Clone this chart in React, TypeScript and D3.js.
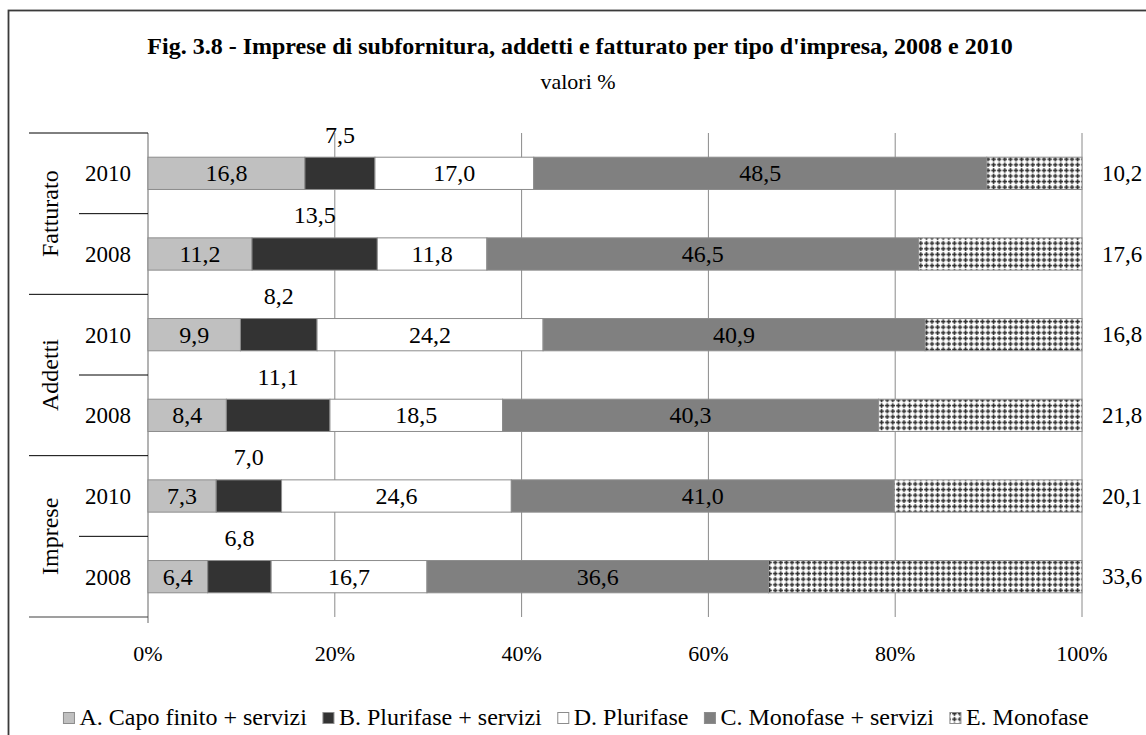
import React, { useMemo } from "react";
import * as d3 from "d3";

// ---- data ----
const groups = ["Fatturato", "Addetti", "Imprese"];
const years = ["2010", "2008"];
const seriesKeys = ["A", "B", "D", "C", "E"];
const seriesNames = [
  "A. Capo finito + servizi",
  "B. Plurifase + servizi",
  "D. Plurifase",
  "C. Monofase + servizi",
  "E. Monofase",
];
// rows: Fatturato 2010, Fatturato 2008, Addetti 2010, Addetti 2008, Imprese 2010, Imprese 2008
const valuesA = [16.8, 11.2, 9.9, 8.4, 7.3, 6.4];
const valuesB = [7.5, 13.5, 8.2, 11.1, 7.0, 6.8];
const valuesD = [17.0, 11.8, 24.2, 18.5, 24.6, 16.7];
const valuesC = [48.5, 46.5, 40.9, 40.3, 41.0, 36.6];
const valuesE = [10.2, 17.6, 16.8, 21.8, 20.1, 33.6];
const xTicks = [0, 0.2, 0.4, 0.6, 0.8, 1];

const title = "Fig. 3.8 - Imprese di subfornitura, addetti e fatturato per tipo d'impresa, 2008 e 2010";
const subtitle = "valori %";

const FONT = "'Liberation Serif', 'Times New Roman', Times, serif";
const fills: Record<string, string> = {
  A: "#c0c0c0",
  B: "#333333",
  D: "#ffffff",
  C: "#808080",
  E: "url(#patE)",
};

const fmt = (v: number) => d3.format(".1f")(v).replace(".", ",");

export default function App() {
  const W = 1146;
  const H = 735;
  const plotL = 148;
  const plotR = 1082;
  const plotT = 133;
  const plotB = 617;

  const rows = useMemo(() => {
    const out: any[] = [];
    groups.forEach((g, gi) =>
      years.forEach((y, yi) => {
        const i = gi * 2 + yi;
        out.push({
          id: `${g}-${y}`,
          group: g,
          year: y,
          A: valuesA[i],
          B: valuesB[i],
          D: valuesD[i],
          C: valuesC[i],
          E: valuesE[i],
        });
      })
    );
    return out;
  }, []);

  const stacked = useMemo(
    () => d3.stack<any>().keys(seriesKeys).offset(d3.stackOffsetExpand)(rows),
    [rows]
  );

  const x = d3.scaleLinear().domain([0, 1]).range([plotL, plotR]);
  const y = d3
    .scaleBand<string>()
    .domain(rows.map((r) => r.id))
    .range([plotT, plotB])
    .paddingInner(0.6)
    .paddingOuter(0.3);
  const step = y.step();
  const bw = y.bandwidth();
  const rowTop = (id: string) => (y(id) as number) - (step * 0.6) / 2;
  const rowCenter = (id: string) => (y(id) as number) + bw / 2;

  // legend layout
  const legendFont = `24px ${FONT}`;
  const legendItems = useMemo(() => {
    const ctx = document.createElement("canvas").getContext("2d")!;
    ctx.font = legendFont;
    const markerSize = 11;
    const mGap = 5;
    const itemGap = 16;
    const widths = seriesNames.map((n) => ctx.measureText(n).width);
    const total =
      widths.reduce((a, b) => a + b, 0) +
      seriesNames.length * (markerSize + mGap) +
      (seriesNames.length - 1) * itemGap;
    let cx = 576 - total / 2;
    return seriesNames.map((n, i) => {
      const it = { name: n, key: seriesKeys[i], x: cx, markerSize, tx: cx + markerSize + mGap };
      cx += markerSize + mGap + widths[i] + itemGap;
      return it;
    });
  }, []);

  const legendY = 717;

  return (
    <svg
      width={W}
      height={H}
      style={{ position: "absolute", left: 0, top: 0, background: "#fff" }}
      fontFamily={FONT}
    >
      <defs>
        <pattern id="patE" width={5.6} height={5.6} patternUnits="userSpaceOnUse">
          <rect width={5.6} height={5.6} fill="#ffffff" />
          <rect x={0.2} y={1.6} width={4.4} height={1.6} fill="#2e2e2e" />
          <rect x={1.6} y={0.2} width={1.6} height={4.4} fill="#2e2e2e" />
        </pattern>
      </defs>
      <rect x={0} y={0} width={W} height={H} fill="#fff" />
      {/* frame */}
      <rect x={8.5} y={10.5} width={1200} height={800} fill="none" stroke="#3a3a3a" strokeWidth={1.8} />

      {/* title */}
      <text x={580} y={54} textAnchor="middle" fontSize={24} fontWeight="bold" fill="#000">
        {title}
      </text>
      <text x={578} y={89} textAnchor="middle" fontSize={22} fill="#000">
        {subtitle}
      </text>

      {/* gridlines */}
      {xTicks.slice(1).map((t) => (
        <line key={t} x1={x(t)} x2={x(t)} y1={plotT} y2={plotB} stroke="#8a8a8a" strokeWidth={1} />
      ))}
      {/* left axis */}
      <line x1={plotL} x2={plotL} y1={plotT} y2={plotB + 6} stroke="#808080" strokeWidth={1.2} />

      {/* bars */}
      {stacked.map((s) => (
        <g key={s.key}>
          {s.map((d: any) => (
            <rect
              key={d.data.id}
              x={x(d[0])}
              y={y(d.data.id)}
              width={x(d[1]) - x(d[0])}
              height={bw}
              fill={fills[s.key]}
              stroke="#8c8c8c"
              strokeWidth={1}
            />
          ))}
        </g>
      ))}

      {/* labels */}
      {stacked.map((s) =>
        s.map((d: any) => {
          const v = d.data[s.key];
          const cy = rowCenter(d.data.id);
          const cxm = (x(d[0]) + x(d[1])) / 2;
          if (s.key === "B") {
            return (
              <text key={s.key + d.data.id} x={cxm} y={rowTop(d.data.id) + 9.5} textAnchor="middle" fontSize={24} fill="#000">
                {fmt(v)}
              </text>
            );
          }
          if (s.key === "E") {
            return (
              <text key={s.key + d.data.id} x={plotR + 20} y={cy + 7.5} textAnchor="start" fontSize={23} fill="#000">
                {fmt(v)}
              </text>
            );
          }
          return (
            <text key={s.key + d.data.id} x={cxm} y={cy + 8} textAnchor="middle" fontSize={24} fill="#000">
              {fmt(v)}
            </text>
          );
        })
      )}

      {/* category axis: years */}
      {rows.map((r) => (
        <text key={"yl" + r.id} x={131} y={rowCenter(r.id) + 8} textAnchor="end" fontSize={23} fill="#000">
          {r.year}
        </text>
      ))}
      {/* year separators within groups */}
      {groups.map((g) => {
        const yy = rowTop(`${g}-${years[1]}`);
        return <line key={"ys" + g} x1={79} x2={plotL} y1={yy} y2={yy} stroke="#000" strokeWidth={1} />;
      })}
      {/* group separators */}
      {groups.map((g) => {
        const yy = rowTop(`${g}-${years[0]}`);
        return <line key={"gs" + g} x1={29} x2={plotL} y1={yy} y2={yy} stroke="#000" strokeWidth={1} />;
      })}
      <line x1={29} x2={plotL} y1={plotB} y2={plotB} stroke="#404040" strokeWidth={1.2} />
      {/* group labels */}
      {groups.map((g) => {
        const yTop = rowTop(`${g}-${years[0]}`);
        const cy = yTop + step;
        return (
          <text
            key={"gl" + g}
            transform={`translate(58, ${cy}) rotate(-90)`}
            textAnchor="middle"
            fontSize={24}
            fill="#000"
          >
            {g}
          </text>
        );
      })}

      {/* x tick labels */}
      {xTicks.map((t) => (
        <text key={"xt" + t} x={x(t)} y={661} textAnchor="middle" fontSize={22} fill="#000">
          {d3.format(".0%")(t)}
        </text>
      ))}

      {/* legend */}
      {legendItems.map((it) => (
        <g key={"lg" + it.key}>
          <rect
            x={it.x}
            y={legendY - it.markerSize / 2 + 1}
            width={it.markerSize}
            height={it.markerSize}
            fill={fills[it.key]}
            stroke="#8c8c8c"
            strokeWidth={1}
          />
          <text x={it.tx} y={legendY + 8} fontSize={24} fill="#000">
            {it.name}
          </text>
        </g>
      ))}
    </svg>
  );
}
